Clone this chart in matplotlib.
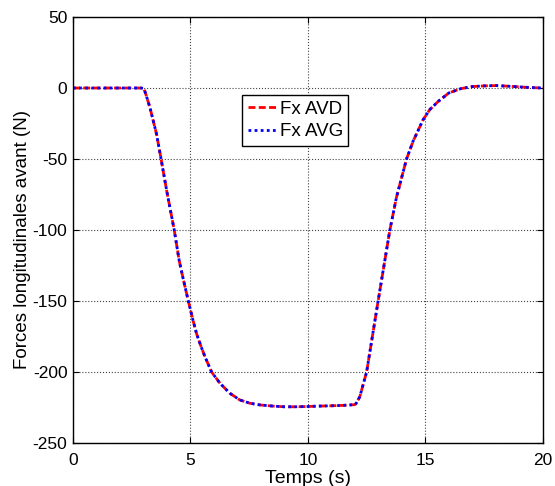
import matplotlib
matplotlib.use("Agg")
import matplotlib.pyplot as plt

# Temps (s) et forces longitudinales avant (N)
temps = [0, 1, 2, 2.9, 3.0, 3.06, 3.15, 3.28, 3.4, 3.56, 3.75, 3.99, 4.31,
         4.52, 4.7, 4.91, 5.1, 5.26, 5.45, 5.62, 5.9, 6.26, 6.68, 7.1, 7.53,
         7.96, 8.5, 9, 9.5, 10, 10.5, 11, 11.5, 12.0, 12.06, 12.21, 12.35,
         12.5, 12.99, 13.49, 13.77, 14.2, 14.48, 14.91, 15.19, 15.55, 16,
         16.5, 17, 17.5, 18, 18.5, 19, 19.5, 20]
fx_avd = [0, 0, 0, 0, -0.3, -2.3, -7, -14, -22, -32.7, -50, -72.4, -100,
          -121.5, -135, -150, -163, -173, -182, -189.3, -200, -208, -215,
          -219.7, -222, -223.2, -224, -224.5, -224.5, -224.3, -224, -223.8,
          -223.5, -223, -222, -217.4, -209, -200, -150, -100, -77, -50, -37.4,
          -22.2, -15.2, -9.4, -3.5, -0.5, 1.0, 1.5, 1.7, 1.3, 0.8, 0.3, 0]
fx_avg = list(fx_avd)

x_ticks = [0, 5, 10, 15, 20]
y_ticks = [-250, -200, -150, -100, -50, 0, 50]

plt.rcParams["font.family"] = ["Liberation Sans", "DejaVu Sans"]
plt.rcParams["axes.unicode_minus"] = False

fig = plt.figure(figsize=(5.55, 4.86), dpi=100)
ax = fig.add_axes([0.1315, 0.0885, 0.8465, 0.8765])

ax.plot(temps, fx_avd, color="red", linestyle="--", linewidth=2.0,
        dashes=(2.5, 1.2), label="Fx AVD")
ax.plot(temps, fx_avg, color="blue", linestyle=":", linewidth=2.0,
        dashes=(1, 1.2), label="Fx AVG")

ax.set_xlim(0, 20)
ax.set_ylim(-250, 50)
ax.set_xticks(x_ticks)
ax.set_yticks(y_ticks)
ax.grid(True, linestyle=":", color="#444444", linewidth=0.8)
ax.tick_params(direction="in", top=True, right=True, length=4, width=0.8,
               labelsize=12.5)
ax.tick_params(axis="x", pad=7)
ax.tick_params(axis="y", pad=4)
for s in ax.spines.values():
    s.set_linewidth(1.0)

ax.set_xlabel("Temps (s)", fontsize=14)
ax.set_ylabel("Forces longitudinales avant (N)", fontsize=13.5)
ax.xaxis.set_label_coords(0.5, -0.063)
ax.yaxis.set_label_coords(-0.09, 0.477)

leg = ax.legend(loc="upper left", bbox_to_anchor=(0.36, 0.817), fancybox=False,
                framealpha=1, edgecolor="black", fontsize=13.5,
                handlelength=1.5, handletextpad=0.2, borderpad=0.3,
                labelspacing=0.3, borderaxespad=0)
leg.get_frame().set_linewidth(1.0)

fig.savefig("out.png", dpi=100)
